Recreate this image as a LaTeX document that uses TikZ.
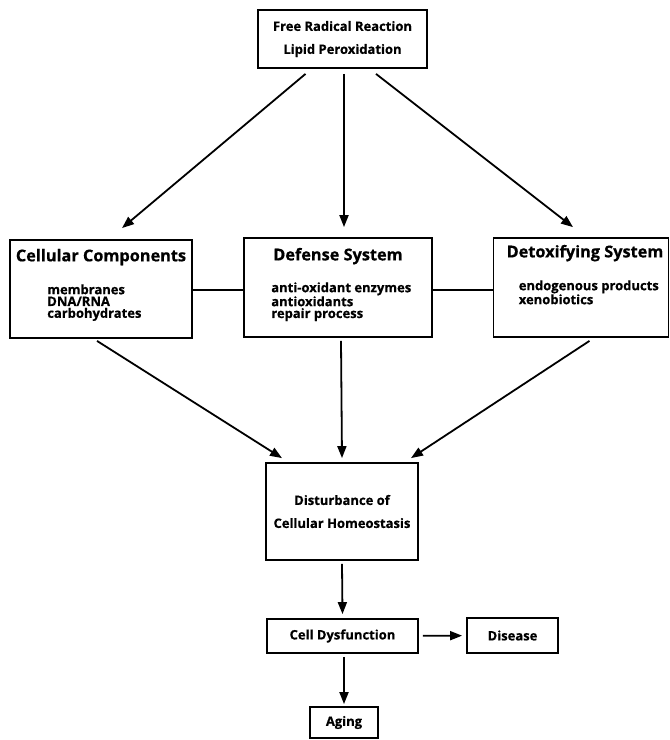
\documentclass[tikz,border=0pt]{standalone}
\usepackage{fontspec}
\setmainfont{Open Sans}[BoldFeatures={FakeBold=0.6}]
\usetikzlibrary{positioning, calc, arrows.meta}
\tikzset{box/.style={draw, line width=1.8pt, inner sep=0pt}}
\tikzset{flow/.style={line width=1.8pt, -{Triangle[length=12pt,width=9pt]}}}
\tikzset{link/.style={line width=1.8pt}}
\tikzset{title/.style={font=\bfseries\fontsize{16.3}{18}\selectfont}}
\tikzset{items/.style={font=\bfseries\fontsize{13}{11.8}\selectfont, align=left, inner sep=0pt, anchor=north west}}
\tikzset{small/.style={font=\bfseries\fontsize{13}{14}\selectfont}}

\begin{document}
\begin{tikzpicture}[x=1pt, y=-1pt]
      \useasboundingbox (0,0) rectangle (670,740);

      \node[box, small, minimum width=169pt, minimum height=58pt, align=center] (frr) at (342.5,39) {Free Radical Reaction\\[9pt]Lipid Peroxidation};

      \node[box, minimum width=182pt, minimum height=98pt] (cc) at (101,289) {};
      \node[title] (cct) at ($(cc.north)+(0,18)$) {Cellular Components};
      \node[items] (cci) at ($(cc.north west)+(38,45)$) {membranes\\DNA/RNA\\carbohydrates};

      \node[box, minimum width=188pt, minimum height=99pt] (def) at (338,287.5) {};
      \node[title] (deft) at ($(def.north)+(0,19)$) {Defense System};
      \node[items] (defi) at ($(def.north west)+(28,45)$) {anti-oxidant enzymes\\antioxidants\\repair process};

      \node[box, minimum width=175pt, minimum height=99pt] (det) at (581,287.5) {};
      \node[title] (dett) at ($(det.north)+(4,16)$) {Detoxifying System};
      \node[items] (deti) at ($(det.north west)+(26,43)$) {endogenous products\\xenobiotics};

      \node[box, small, minimum width=152pt, minimum height=97pt, align=center] (dist) at (342,511.5) {Disturbance of\\[9pt]Cellular Homeostasis};

      \node[box, small, minimum width=151pt, minimum height=34pt] (cd) at (342.5,636) {Cell Dysfunction};
      \node[box, small, minimum width=91pt, minimum height=35pt] (dis) at (512.5,635.5) {Disease};
      \node[box, small, minimum width=68pt, minimum height=31pt] (age) at (344,722.5) {Aging};

      % from the top box
      \draw[flow] ([xshift=-37pt,yshift=-5pt]frr.south) -- ([xshift=21pt,yshift=11pt]cc.north);
      \draw[flow] ([xshift=1.5pt,yshift=-5pt]frr.south) -- ([xshift=6pt,yshift=10pt]def.north);
      \draw[flow] ([xshift=33.5pt,yshift=-5pt]frr.south) -- ([xshift=-8pt,yshift=10pt]det.north);

      % side links
      \draw[link] ([yshift=-1pt]cc.east) -- ([yshift=-1pt]cc.east -| def.west);
      \draw[link] ([yshift=-1pt]def.east |- cc.east) -- ([yshift=-1pt]cc.east -| det.west);

      % into the disturbance box
      \draw[flow] ([xshift=-4pt,yshift=-2pt]cc.south) -- ([xshift=-60pt,yshift=4pt]dist.north);
      \draw[flow] ([xshift=3pt,yshift=-3pt]def.south) -- ([xshift=0pt,yshift=4pt]dist.north);
      \draw[flow] ([xshift=8.5pt,yshift=-3pt]det.south) -- ([xshift=69pt,yshift=4pt]dist.north);

      \draw[flow] ([yshift=-3pt]dist.south) -- ([yshift=4pt]cd.north);
      \draw[flow, shorten <=4pt, shorten >=4pt] (cd) -- (dis);
      \draw[flow] ([xshift=1.5pt,yshift=-3pt]cd.south) -- ([yshift=2pt]age.north);
\end{tikzpicture}
\end{document}
